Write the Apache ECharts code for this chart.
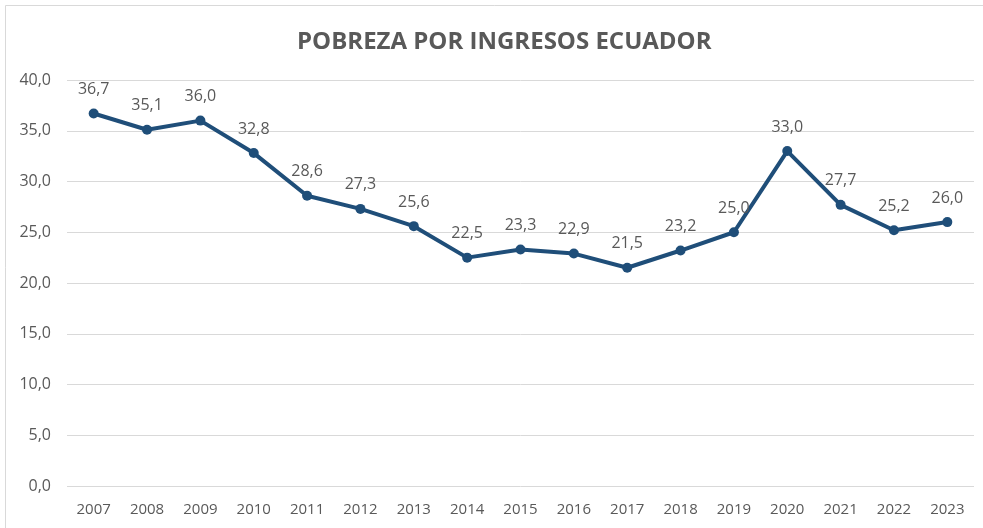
<!DOCTYPE html>
<html><head><meta charset="utf-8">
<script src="https://cdn.jsdelivr.net/npm/echarts@6/dist/echarts.min.js"></script>
<style>html,body{margin:0;padding:0;background:#fff}#c{width:983px;height:528px}</style>
</head><body><div id="c"></div>
<script>
const years = ['2007','2008','2009','2010','2011','2012','2013','2014','2015','2016','2017','2018','2019','2020','2021','2022','2023'];
const pobreza = [36.7,35.1,36.0,32.8,28.6,27.3,25.6,22.5,23.3,22.9,21.5,23.2,25.0,33.0,27.7,25.2,26.0];
const titleText = 'POBREZA POR INGRESOS ECUADOR';
const fmt = v => v.toFixed(1).replace('.', ',');
const chart = echarts.init(document.getElementById('c'), null, {renderer:'canvas'});
chart.setOption({
  animation:false,
  backgroundColor:'#fff',
  graphic:[{type:'rect',shape:{x:5.5,y:5.5,width:990,height:540},style:{fill:'none',stroke:'#d9d9d9',lineWidth:1},silent:true}],
  title:{text:titleText,left:292,top:25,textStyle:{fontFamily:'Open Sans',fontWeight:'bold',fontSize:24,color:'#595959'}},
  grid:{left:67,right:9,top:80,bottom:42},
  xAxis:{type:'category',data:years,boundaryGap:true,
    axisLine:{show:false},axisTick:{show:false},
    axisLabel:{color:'#595959',fontFamily:'Open Sans',fontSize:15,margin:16}},
  yAxis:{type:'value',min:0,max:40,interval:5,
    axisLine:{show:false},axisTick:{show:false},
    splitLine:{lineStyle:{color:'#d9d9d9',width:1}},
    axisLabel:{color:'#595959',fontFamily:'Open Sans',fontSize:16,margin:16,formatter:v=>fmt(v)}},
  series:[{type:'line',data:pobreza,symbol:'circle',symbolSize:10,
    lineStyle:{color:'#1F4E79',width:4},itemStyle:{color:'#1F4E79'},
    label:{show:true,position:'top',distance:11,color:'#595959',fontFamily:'Open Sans',fontSize:16,formatter:p=>fmt(p.value)}}]
});
</script></body></html>
